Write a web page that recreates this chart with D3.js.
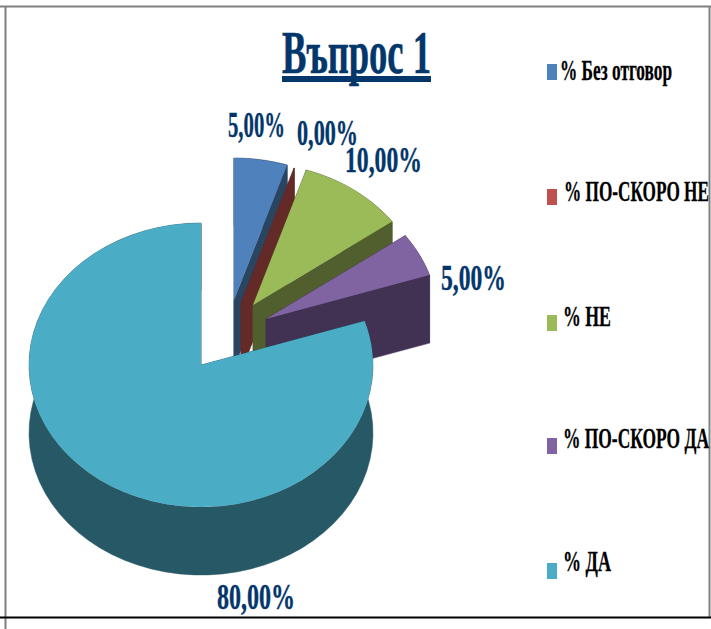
<!DOCTYPE html>
<html>
<head>
<meta charset="utf-8">
<script src="https://cdn.jsdelivr.net/npm/d3@7"></script>
<style>
  html, body { margin: 0; padding: 0; background: #fff; }
  svg { display: block; }
  text { font-family: "Liberation Serif", serif; font-weight: bold; }
</style>
</head>
<body>
<svg id="chart" width="711" height="629"></svg>
<script>
const titleText = 'Въпрос 1';
const categories = ['% Без отговор', '% ПО-СКОРО НЕ', '% НЕ', '% ПО-СКОРО ДА', '% ДА'];
const values = [5, 0, 10, 5, 80];
const valueLabels = ['5,00%', '0,00%', '10,00%', '5,00%', '80,00%'];
const topColours = ['#4f81bd', '#c0504d', '#9bbb59', '#8064a2', '#4bacc6'];
const wallColours = ['#2a4562', '#632a28', '#515f2e', '#413152', '#265866'];

// where each exploded slice has its tip
const sliceTips = [[234, 300], [241, 303], [253, 305], [266, 319], [201, 365]];
const labelBoxes = [
  { x: 228, y: 137, w: 57 },
  { x: 297, y: 145, w: 61 },
  { x: 345, y: 172, w: 77 },
  { x: 441, y: 290, w: 65 },
  { x: 217, y: 609, w: 78 },
];
const legendRows = [
  { box: 64, text: 80, x: 560, w: 112 },
  { box: 189, text: 201, x: 564, w: 145 },
  { box: 315, text: 326, x: 563, w: 48 },
  { box: 438, text: 448, x: 563, w: 146 },
  { box: 563, text: 571, x: 563, w: 48 },
];

const rx = 172;
const ry = 142;
const depth = 68;
const navy = '#03366b';

const svg = d3.select('#chart');

const slices = d3.pie().sort(null).value((d) => d)(values);
const arc = d3.arc().innerRadius(0).outerRadius(rx);
const wallLine = d3.line();

function rimPoint(tip, angle, drop = 0) {
  return [tip[0] + rx * Math.sin(angle), tip[1] - ry * Math.cos(angle) + drop];
}

// side walls first, the top face painted over them
function drawSlice(slice, i) {
  const tip = sliceTips[i];
  const g = svg.append('g').attr('class', 'slice');
  const steps = d3.range(0, 61).map(
    (k) => slice.startAngle + ((slice.endAngle - slice.startAngle) * k) / 60
  );

  const outerWall = steps
    .map((a) => rimPoint(tip, a))
    .concat(steps.slice().reverse().map((a) => rimPoint(tip, a, depth)));
  const cutWall = (angle) => [
    tip,
    rimPoint(tip, angle),
    rimPoint(tip, angle, depth),
    [tip[0], tip[1] + depth],
  ];

  [outerWall, cutWall(slice.startAngle), cutWall(slice.endAngle)].forEach((points) => {
    g.append('path')
      .attr('d', wallLine(points) + 'Z')
      .attr('fill', wallColours[i])
      .attr('stroke', wallColours[i])
      .attr('stroke-width', 0.5);
  });

  if (slice.endAngle > slice.startAngle) {
    g.append('path')
      .attr('d', arc(slice))
      .attr('transform', `translate(${tip[0]},${tip[1]}) scale(1,${ry / rx})`)
      .attr('fill', topColours[i]);
  }
}

slices.forEach(drawSlice);

// frame of the pasted picture
svg.append('line').attr('x1', 0).attr('x2', 711).attr('y1', 6.5).attr('y2', 6.5)
  .attr('stroke', '#808080').attr('stroke-width', 2);
svg.append('line').attr('x1', 5.5).attr('x2', 5.5).attr('y1', 6).attr('y2', 629)
  .attr('stroke', '#808080').attr('stroke-width', 2);
svg.append('line').attr('x1', 709.5).attr('x2', 709.5).attr('y1', 6).attr('y2', 617)
  .attr('stroke', '#808080').attr('stroke-width', 2);
svg.append('line').attr('x1', 0).attr('x2', 711).attr('y1', 617.5).attr('y2', 617.5)
  .attr('stroke', '#000').attr('stroke-width', 2);

// title
svg.append('text')
  .text(titleText)
  .attr('x', 282)
  .attr('y', 73)
  .attr('font-size', 61)
  .attr('fill', navy)
  .attr('stroke', navy)
  .attr('stroke-width', 0.6)
  .attr('textLength', 149)
  .attr('lengthAdjust', 'spacingAndGlyphs');
svg.append('rect').attr('x', 282).attr('y', 76).attr('width', 149).attr('height', 6).attr('fill', navy);

// value labels
valueLabels.forEach((label, i) => {
  svg.append('text')
    .text(label)
    .attr('x', labelBoxes[i].x)
    .attr('y', labelBoxes[i].y)
    .attr('font-size', 36)
    .attr('fill', navy)
    .attr('stroke', navy)
    .attr('stroke-width', 0.4)
    .attr('textLength', labelBoxes[i].w)
    .attr('lengthAdjust', 'spacingAndGlyphs');
});

// legend
categories.forEach((name, i) => {
  svg.append('rect')
    .attr('x', 547).attr('y', legendRows[i].box)
    .attr('width', 10).attr('height', 16)
    .attr('fill', topColours[i]);
  svg.append('text')
    .text(name)
    .attr('x', legendRows[i].x)
    .attr('y', legendRows[i].text)
    .attr('font-size', 29)
    .attr('fill', '#000')
    .attr('stroke', '#000')
    .attr('stroke-width', 0.3)
    .attr('textLength', legendRows[i].w)
    .attr('lengthAdjust', 'spacingAndGlyphs');
});
</script>
</body>
</html>
